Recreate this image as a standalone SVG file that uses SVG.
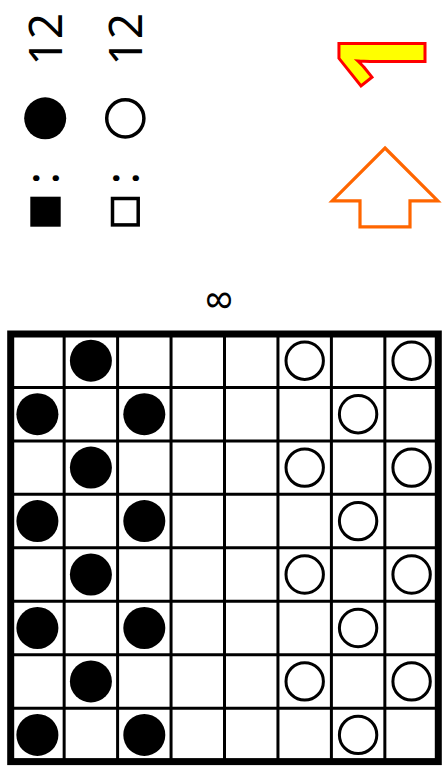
<svg xmlns="http://www.w3.org/2000/svg" width="442" height="778" viewBox="0 0 442 778">
<style>
.txt{font-family:"Noto Sans",sans-serif;fill:#000;text-anchor:middle}
.turn{font-family:"Noto Sans",sans-serif;font-weight:bold;fill:#ffff00;stroke:#ff0000;stroke-width:3}
.blk{fill:#000}
.wht{fill:#fff;stroke:#000;stroke-width:3}
.grid{stroke:#000;stroke-width:3;fill:none}
</style>
<rect width="442" height="778" fill="#fff"/>
<g id="legend">
<text class="txt" font-size="46" transform="translate(61.7,39.3) rotate(-90)">12</text>
<text class="txt" font-size="46" transform="translate(141.7,39.3) rotate(-90)">12</text>
<circle cx="45.2" cy="118.3" r="21" class="blk"/>
<circle cx="125.3" cy="118.3" r="18.6" fill="#fff" stroke="#000" stroke-width="3.5"/>
<text class="txt" font-size="47" transform="translate(59,178.3) rotate(-90)">:</text>
<text class="txt" font-size="47" transform="translate(139,178.3) rotate(-90)">:</text>
<rect x="30.3" y="196.7" width="30.4" height="30" class="blk"/>
<rect x="112.5" y="198.5" width="25.7" height="26.4" fill="#fff" stroke="#000" stroke-width="3.5"/>
</g>
<g id="turn-number">
<text class="turn" font-size="120" transform="translate(424.5,93) rotate(-90)">1</text>
</g>
<g id="turn-arrow">
<polygon points="385,148 437.8,200.8 410,200.8 410,226.8 360,226.8 360,200.8 332.2,200.8" fill="#fff" stroke="#ff6600" stroke-width="3.2"/>
</g>
<g id="board-size">
<text class="txt" font-size="33" transform="translate(231.4,300.3) rotate(-90)">8</text>
</g>
<g id="board">
<rect x="10.7" y="334" width="427.6" height="427.6" fill="#fff" stroke="#000" stroke-width="7"/>
<g class="grid">
<line x1="64.15" y1="334" x2="64.15" y2="761.6"/>
<line x1="117.6" y1="334" x2="117.6" y2="761.6"/>
<line x1="171.05" y1="334" x2="171.05" y2="761.6"/>
<line x1="224.5" y1="334" x2="224.5" y2="761.6"/>
<line x1="277.95" y1="334" x2="277.95" y2="761.6"/>
<line x1="331.4" y1="334" x2="331.4" y2="761.6"/>
<line x1="384.85" y1="334" x2="384.85" y2="761.6"/>
<line x1="10.7" y1="387.45" x2="438.3" y2="387.45"/>
<line x1="10.7" y1="440.9" x2="438.3" y2="440.9"/>
<line x1="10.7" y1="494.35" x2="438.3" y2="494.35"/>
<line x1="10.7" y1="547.8" x2="438.3" y2="547.8"/>
<line x1="10.7" y1="601.25" x2="438.3" y2="601.25"/>
<line x1="10.7" y1="654.7" x2="438.3" y2="654.7"/>
<line x1="10.7" y1="708.15" x2="438.3" y2="708.15"/>
</g>
</g>
<g id="black-pieces">
<circle cx="90.9" cy="360.7" r="21" class="blk"/>
<circle cx="90.9" cy="467.6" r="21" class="blk"/>
<circle cx="90.9" cy="574.5" r="21" class="blk"/>
<circle cx="90.9" cy="681.4" r="21" class="blk"/>
<circle cx="37.4" cy="414.2" r="21" class="blk"/>
<circle cx="37.4" cy="521.1" r="21" class="blk"/>
<circle cx="37.4" cy="628" r="21" class="blk"/>
<circle cx="37.4" cy="734.9" r="21" class="blk"/>
<circle cx="144.3" cy="414.2" r="21" class="blk"/>
<circle cx="144.3" cy="521.1" r="21" class="blk"/>
<circle cx="144.3" cy="628" r="21" class="blk"/>
<circle cx="144.3" cy="734.9" r="21" class="blk"/>
</g>
<g id="white-pieces">
<circle cx="304.7" cy="360.7" r="18.7" class="wht"/>
<circle cx="304.7" cy="467.6" r="18.7" class="wht"/>
<circle cx="304.7" cy="574.5" r="18.7" class="wht"/>
<circle cx="304.7" cy="681.4" r="18.7" class="wht"/>
<circle cx="411.6" cy="360.7" r="18.7" class="wht"/>
<circle cx="411.6" cy="467.6" r="18.7" class="wht"/>
<circle cx="411.6" cy="574.5" r="18.7" class="wht"/>
<circle cx="411.6" cy="681.4" r="18.7" class="wht"/>
<circle cx="358.1" cy="414.2" r="18.7" class="wht"/>
<circle cx="358.1" cy="521.1" r="18.7" class="wht"/>
<circle cx="358.1" cy="628" r="18.7" class="wht"/>
<circle cx="358.1" cy="734.9" r="18.7" class="wht"/>
</g>
</svg>
